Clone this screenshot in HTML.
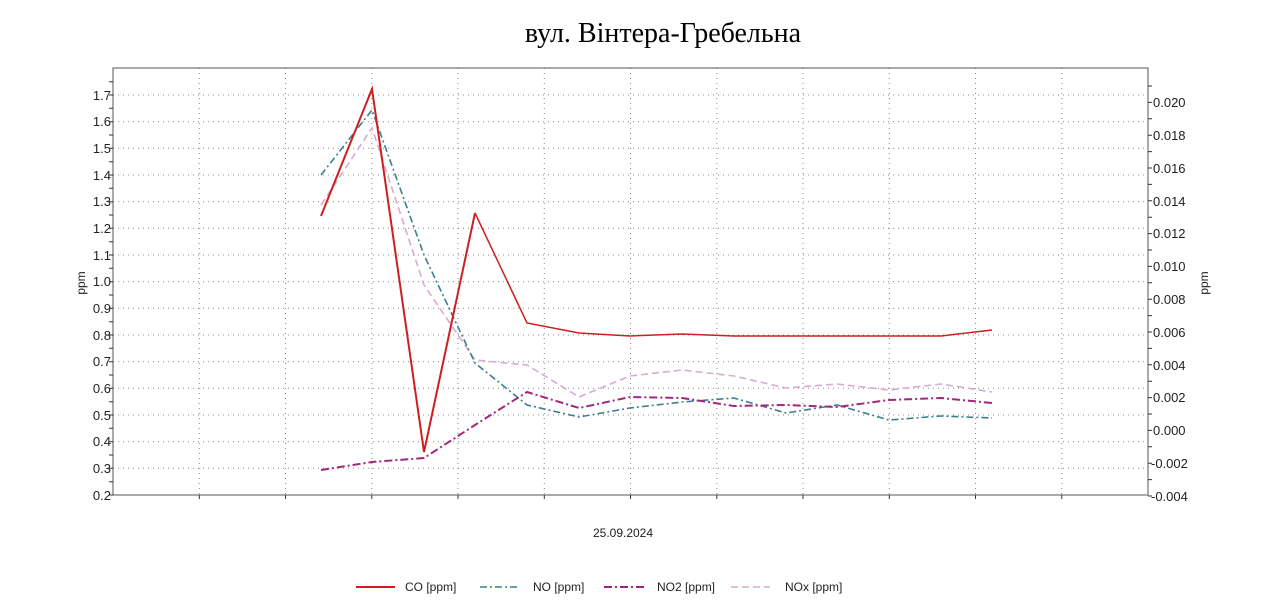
<!DOCTYPE html>
<html><head><meta charset="utf-8"><style>
html,body{margin:0;padding:0;background:#fff;}
svg{display:block;font-family:"Liberation Sans",sans-serif;}
</style></head><body>
<svg width="1280" height="606" viewBox="0 0 1280 606" xmlns="http://www.w3.org/2000/svg">
<text x="663" y="42" text-anchor="middle" font-family="Liberation Serif, serif" font-size="28" fill="#000">вул. Вінтера-Гребельна</text>
<g stroke="#888" stroke-width="1" stroke-dasharray="1,4">
<line x1="113" x2="1148" y1="468.3" y2="468.3"/><line x1="113" x2="1148" y1="441.7" y2="441.7"/>
<line x1="113" x2="1148" y1="415" y2="415"/><line x1="113" x2="1148" y1="388.3" y2="388.3"/>
<line x1="113" x2="1148" y1="361.7" y2="361.7"/><line x1="113" x2="1148" y1="335" y2="335"/>
<line x1="113" x2="1148" y1="308.3" y2="308.3"/><line x1="113" x2="1148" y1="281.7" y2="281.7"/>
<line x1="113" x2="1148" y1="255" y2="255"/><line x1="113" x2="1148" y1="228.3" y2="228.3"/>
<line x1="113" x2="1148" y1="201.7" y2="201.7"/><line x1="113" x2="1148" y1="175" y2="175"/>
<line x1="113" x2="1148" y1="148.3" y2="148.3"/><line x1="113" x2="1148" y1="121.7" y2="121.7"/>
<line x1="113" x2="1148" y1="95" y2="95"/>
<line y1="68" y2="495" x1="199.3" x2="199.3"/><line y1="68" y2="495" x1="285.5" x2="285.5"/>
<line y1="68" y2="495" x1="371.8" x2="371.8"/><line y1="68" y2="495" x1="458" x2="458"/>
<line y1="68" y2="495" x1="544.3" x2="544.3"/><line y1="68" y2="495" x1="630.5" x2="630.5"/>
<line y1="68" y2="495" x1="716.8" x2="716.8"/><line y1="68" y2="495" x1="803" x2="803"/>
<line y1="68" y2="495" x1="889.3" x2="889.3"/><line y1="68" y2="495" x1="975.5" x2="975.5"/>
<line y1="68" y2="495" x1="1061.8" x2="1061.8"/>
</g>
<rect x="113" y="68" width="1035" height="427" fill="none" stroke="#555" stroke-width="1"/>
<g stroke="#333" stroke-width="1">
<path d="M109 495H113M109 481.7H113M109 468.3H113M109 455H113M109 441.7H113M109 428.3H113M109 415H113M109 401.7H113M109 388.3H113M109 375H113M109 361.7H113M109 348.3H113M109 335H113M109 321.7H113M109 308.3H113M109 295H113M109 281.7H113M109 268.3H113M109 255H113M109 241.7H113M109 228.3H113M109 215H113M109 201.7H113M109 188.3H113M109 175H113M109 161.7H113M109 148.3H113M109 135H113M109 121.7H113M109 108.3H113M109 95H113M109 81.7H113"/>
<path d="M1148 496H1152M1148 479.6H1152M1148 463.2H1152M1148 446.8H1152M1148 430.4H1152M1148 414H1152M1148 397.6H1152M1148 381.2H1152M1148 364.8H1152M1148 348.4H1152M1148 332H1152M1148 315.6H1152M1148 299.2H1152M1148 282.8H1152M1148 266.4H1152M1148 250H1152M1148 233.6H1152M1148 217.2H1152M1148 200.8H1152M1148 184.4H1152M1148 168H1152M1148 151.6H1152M1148 135.2H1152M1148 118.8H1152M1148 102.4H1152M1148 86H1152"/>
<path d="M199.3 495V499M285.5 495V499M371.8 495V499M458 495V499M544.3 495V499M630.5 495V499M716.8 495V499M803 495V499M889.3 495V499M975.5 495V499M1061.8 495V499"/>
</g>
<g font-size="13" fill="#222" text-anchor="end">
<text x="111" y="500">0.2</text><text x="111" y="473">0.3</text><text x="111" y="446">0.4</text>
<text x="111" y="420">0.5</text><text x="111" y="393">0.6</text><text x="111" y="366">0.7</text>
<text x="111" y="340">0.8</text><text x="111" y="313">0.9</text><text x="111" y="286">1.0</text>
<text x="111" y="260">1.1</text><text x="111" y="233">1.2</text><text x="111" y="206">1.3</text>
<text x="111" y="180">1.4</text><text x="111" y="153">1.5</text><text x="111" y="126">1.6</text>
<text x="111" y="100">1.7</text>
</g>
<g font-size="13" fill="#222">
<text x="1151" y="501">-0.004</text><text x="1151" y="468">-0.002</text><text x="1153" y="435">0.000</text>
<text x="1153" y="402">0.002</text><text x="1153" y="370">0.004</text><text x="1153" y="337">0.006</text>
<text x="1153" y="304">0.008</text><text x="1153" y="271">0.010</text><text x="1153" y="238">0.012</text>
<text x="1153" y="206">0.014</text><text x="1153" y="173">0.016</text><text x="1153" y="140">0.018</text>
<text x="1153" y="107">0.020</text>
</g>
<text transform="translate(85,283) rotate(-90)" font-size="12" text-anchor="middle" fill="#222">ppm</text>
<text transform="translate(1208,283) rotate(-90)" font-size="12" text-anchor="middle" fill="#222">ppm</text>
<text x="623" y="537" font-size="12" text-anchor="middle" fill="#222">25.09.2024</text>
<g fill="none">
<polyline stroke="#d8aad2" stroke-width="1.6" stroke-dasharray="7,4" points="321,205 372,128 424,285 475,360 527,365 579,397 630,376 682,370 734,376 786,388 837,384 889,390 941,384 992,392"/>
<polyline stroke="#3d7f8f" stroke-width="1.6" stroke-dasharray="7,3,2,3" points="321,175 372,110 424,255 475,363 527,405 579,417 630,408 682,402 734,398 786,413 837,405 889,420 941,416 992,418"/>
<polyline stroke="#a3267c" stroke-width="2" stroke-dasharray="8,3,2,3" points="321,470 372,462 424,458 475,425 527,392 579,408 630,397 682,398 734,406 786,405 837,407 889,400 941,398 992,403"/>
<polyline stroke="#cc2020" stroke-width="2" points="321,216 372,89 424,452 475,213"/>
<polyline stroke="#cc2020" stroke-width="1.5" points="475,213 527,323 579,333 630,336 682,334 734,336 786,336 837,336 889,336 941,336 992,330"/>
</g>
<g stroke-width="2">
<line x1="356" x2="395" y1="587" y2="587" stroke="#cc2020"/>
<line x1="480" x2="520" y1="587" y2="587" stroke="#3d7f8f" stroke-dasharray="7,3,2,3" stroke-width="1.5"/>
<line x1="604" x2="645" y1="587" y2="587" stroke="#a3267c" stroke-dasharray="8,3,2,3"/>
<line x1="731" x2="770" y1="587" y2="587" stroke="#d8aad2" stroke-dasharray="7,4" stroke-width="1.5"/>
</g>
<g font-size="12" fill="#222">
<text x="405" y="591">CO [ppm]</text><text x="533" y="591">NO [ppm]</text>
<text x="657" y="591">NO2 [ppm]</text><text x="785" y="591">NOx [ppm]</text>
</g>
</svg>
</body></html>
